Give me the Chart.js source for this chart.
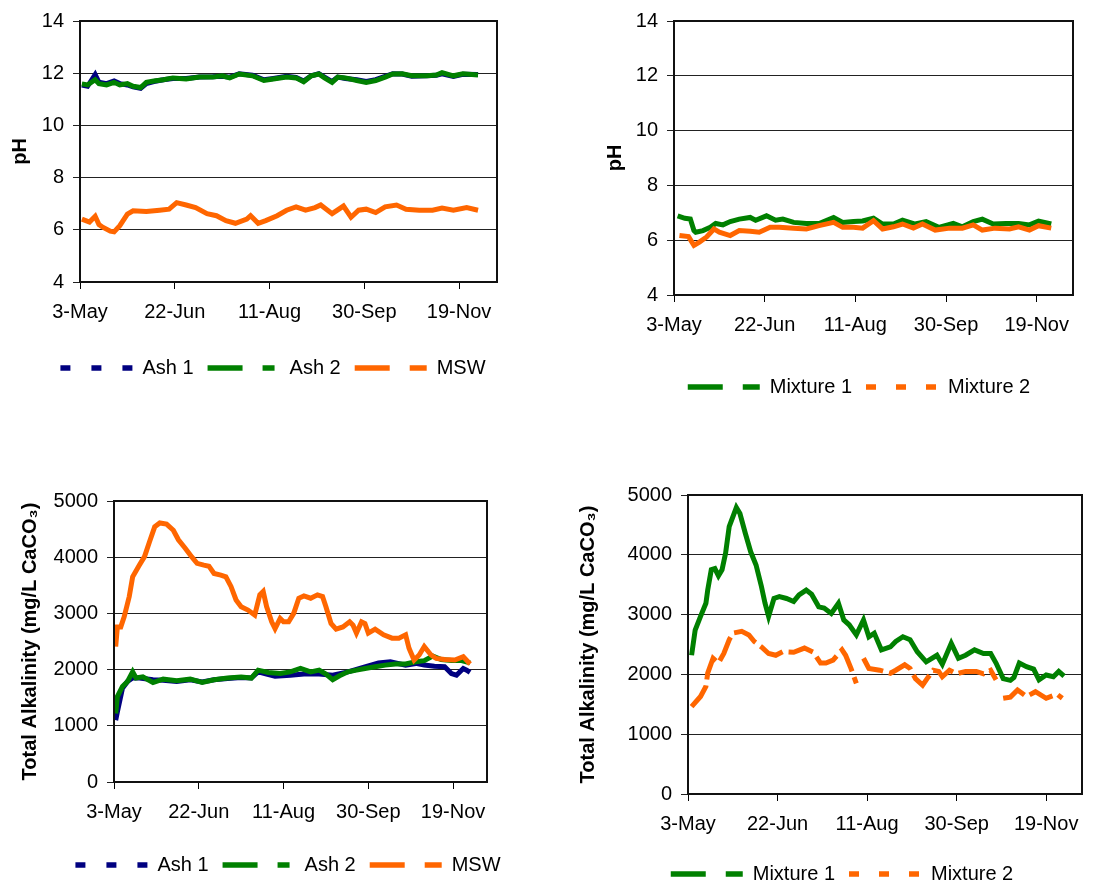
<!DOCTYPE html>
<html>
<head>
<meta charset="utf-8">
<script src="https://cdn.jsdelivr.net/npm/chart.js@4.4.1/dist/chart.umd.min.js"></script>
<style>
  html, body { margin: 0; padding: 0; background: #fff; }
  body { width: 1094px; height: 886px; position: relative; overflow: hidden; }
  canvas { position: absolute; }
</style>
</head>
<body>
<canvas id="phAsh" width="540" height="400" style="left:0;top:0"></canvas>
<canvas id="phMix" width="534" height="410" style="left:560px;top:0"></canvas>
<canvas id="alkAsh" width="540" height="416" style="left:0;top:470px"></canvas>
<canvas id="alkMix" width="534" height="416" style="left:560px;top:470px"></canvas>
<script>
// x axis is days counted from 3 May, ticks every 50 days
const xTickLabels = ['3-May', '22-Jun', '11-Aug', '30-Sep', '19-Nov'];

// pH, ash and MSW cells
const phDaysAsh = [1,4,8,10,14,18,21,25,28,32,35,39,44,49,56,63,70,75,79,84,91,97,102,109,114,118,122,126,129,133,136,140,146,151,156,161,165,170,175,183,188,191,197,202,210];
const ash1Ph = [11.55,11.50,11.95,11.65,11.60,11.70,11.60,11.55,11.48,11.42,11.60,11.68,11.75,11.80,11.80,11.85,11.86,11.88,11.85,11.98,11.92,11.75,11.80,11.88,11.84,11.70,11.90,11.98,11.85,11.68,11.85,11.80,11.75,11.68,11.75,11.88,11.98,11.97,11.88,11.90,11.92,11.98,11.88,11.96,11.95];
const ash2Ph = [11.59,11.55,11.75,11.60,11.55,11.65,11.55,11.60,11.50,11.45,11.65,11.70,11.75,11.82,11.78,11.85,11.85,11.90,11.82,11.97,11.90,11.72,11.78,11.85,11.82,11.67,11.90,11.97,11.82,11.65,11.85,11.82,11.72,11.65,11.72,11.85,11.97,11.98,11.90,11.90,11.93,12.02,11.90,11.98,11.93];
const mswPhDays = [1,5,8,10,12,16,18,21,25,28,35,42,47,51,56,61,67,72,77,82,88,90,94,98,104,109,114,119,124,127,133,139,143,147,151,156,161,167,172,179,186,191,197,204,210];
const mswPh = [6.41,6.30,6.52,6.20,6.10,5.95,5.92,6.16,6.60,6.73,6.70,6.75,6.79,7.04,6.95,6.85,6.62,6.54,6.35,6.25,6.41,6.54,6.25,6.35,6.54,6.75,6.88,6.75,6.85,6.95,6.62,6.91,6.48,6.75,6.79,6.66,6.88,6.95,6.79,6.75,6.75,6.83,6.75,6.85,6.75];

// pH, mixtures
const mix1PhDays = [2,6,9,11,12,16,20,23,27,31,36,42,45,51,56,60,66,73,80,88,93,99,104,110,115,121,126,133,139,146,154,159,165,170,176,183,190,196,201,208];
const mix1Ph = [6.89,6.80,6.77,6.35,6.29,6.35,6.47,6.61,6.56,6.68,6.77,6.83,6.73,6.89,6.73,6.77,6.65,6.61,6.61,6.83,6.65,6.68,6.70,6.80,6.59,6.59,6.73,6.59,6.68,6.47,6.61,6.49,6.68,6.77,6.59,6.61,6.61,6.56,6.70,6.59];
const mix2PhDays = [3,8,11,14,18,22,25,31,36,42,47,53,58,66,73,80,88,93,99,104,110,115,121,126,132,137,144,152,159,165,170,177,185,190,196,201,208];
const mix2Ph = [6.17,6.13,5.81,5.93,6.12,6.41,6.29,6.17,6.35,6.33,6.29,6.47,6.47,6.44,6.41,6.53,6.65,6.47,6.47,6.44,6.71,6.41,6.49,6.59,6.44,6.59,6.37,6.44,6.44,6.56,6.37,6.44,6.41,6.49,6.37,6.53,6.44];

// total alkalinity (mg/L CaCO3), ash and MSW cells
const ash1AlkDays = [1,2,5,8,11,15,23,29,37,45,52,59,67,75,81,85,90,95,104,112,121,129,138,148,156,163,172,178,183,189,195,199,202,206,208,210];
const ash1Alk = [1100,1250,1670,1790,1850,1850,1820,1810,1790,1820,1780,1820,1840,1860,1850,1960,1920,1880,1900,1920,1920,1900,1960,2050,2120,2140,2080,2110,2080,2060,2050,1930,1900,2020,1990,1950];
const ash2AlkDays = [1,2,5,8,11,13,17,23,29,37,45,52,59,67,75,81,85,91,98,104,110,116,121,125,129,133,138,143,148,154,160,166,172,178,183,188,193,199,205,210];
const ash2Alk = [1220,1520,1700,1790,1960,1850,1870,1770,1830,1800,1830,1770,1820,1850,1870,1850,1990,1950,1930,1960,2020,1960,1990,1920,1820,1890,1960,1990,2020,2050,2080,2100,2100,2140,2160,2240,2180,2160,2160,2120];
const mswAlkDays = [1,2,4,6,9,11,15,18,21,24,27,31,35,38,42,46,49,53,56,59,63,66,69,72,75,79,83,86,88,90,93,95,98,100,103,106,109,112,116,120,123,125,128,131,135,139,141,143,146,148,150,154,159,164,168,172,174,177,180,183,187,190,195,201,206,210];
const mswAlk = [2410,2760,2760,2940,3300,3650,3860,4010,4280,4540,4610,4590,4480,4310,4160,4000,3890,3860,3840,3710,3680,3650,3480,3240,3120,3060,2970,3330,3390,3120,2850,2730,2910,2850,2850,3000,3270,3310,3270,3330,3300,3120,2820,2720,2760,2850,2790,2650,2850,2820,2650,2720,2620,2560,2560,2620,2380,2170,2260,2410,2260,2200,2180,2170,2230,2100];

// total alkalinity, mixtures (null = no reading)
const mix1AlkDays = [2,4,7,10,11,13,15,17,19,21,23,27,29,32,35,38,41,43,45,48,51,55,59,62,66,69,73,76,80,84,87,90,94,98,101,104,108,113,116,120,124,128,133,139,142,147,151,155,160,165,169,172,176,180,182,185,189,193,196,200,204,207,210];
const mix1Alk = [2320,2740,2970,3190,3410,3750,3770,3650,3750,4030,4470,4790,4690,4360,4050,3830,3470,3190,2970,3270,3300,3270,3220,3330,3410,3340,3130,3110,3020,3190,2910,2830,2660,2910,2630,2690,2410,2460,2550,2630,2580,2380,2210,2320,2170,2520,2270,2320,2410,2350,2350,2190,1930,1900,1950,2190,2130,2090,1910,1990,1960,2050,1970];
const mix2AlkDays = [2,7,10,11,14,17,20,23,25,30,34,37,41,45,49,53,59,65,70,74,77,81,86,88,91,94,96,98,101,107,113,116,121,124,127,131,134,137,140,142,146,150,155,161,165,169,172,174,176,180,184,189,194,200,206,209];
const mix2Alk = [1460,1630,1800,2020,2270,2190,2350,2580,2690,2720,2660,2550,2460,2350,2320,2380,2370,2440,2370,2190,2190,2240,2410,2320,2100,1850,null,2270,2100,2070,2020,2070,2160,2100,1930,1820,1950,2070,2050,1960,2070,2010,2050,2050,2010,2070,1910,null,1600,1620,1740,1630,1710,1600,1670,1600];

const NAVY = '#000080', GREEN = '#008000', ORANGE = '#FF6600';

Chart.defaults.font.family = "'Liberation Sans', Arial, sans-serif";
Chart.defaults.font.size = 20;
Chart.defaults.color = '#000';

function pts(days, vals) {
  return days.map((d, i) => ({ x: d, y: vals[i] }));
}

function series(label, days, vals, color, legendDash, idx, dash) {
  return {
    label: label,
    data: pts(days, vals),
    borderColor: color,
    backgroundColor: color,
    borderWidth: 5,
    borderDash: dash || [],
    pointRadius: 0,
    tension: 0,
    spanGaps: false,
    order: -idx,
    legendDash: legendDash
  };
}

// plot area border on all four sides
const frame = {
  id: 'frame',
  afterDraw(chart) {
    const a = chart.chartArea, ctx = chart.ctx;
    ctx.save();
    ctx.strokeStyle = '#111';
    ctx.lineWidth = 2;
    ctx.strokeRect(a.left, a.top, a.right - a.left, a.bottom - a.top);
    ctx.restore();
  }
};

// put the legend row where it sits in the figure
const place = {
  id: 'place',
  afterLayout(chart, args, opts) {
    const lg = chart.legend;
    const dx = opts.cx - (lg.left + lg.right) / 2;
    const dy = opts.cy - (lg.top + lg.options.labels.padding + 10);
    lg.left += dx; lg.right += dx;
    lg.top += dy; lg.bottom += dy;
  }
};

function makeChart(id, cfg) {
  new Chart(document.getElementById(id), {
    type: 'line',
    data: { datasets: cfg.datasets },
    plugins: [frame, place],
    options: {
      responsive: false,
      animation: false,
      events: [],
      layout: { padding: cfg.pad },
      plugins: {
        tooltip: { enabled: false },
        place: { cx: cfg.legendX, cy: cfg.legendY },
        legend: {
          position: 'bottom',
          labels: {
            usePointStyle: true,
            pointStyleWidth: 72,
            padding: 14,
            color: '#000',
            font: { size: 20 },
            generateLabels: chart => chart.data.datasets.map((ds, i) => ({
              text: ds.label,
              datasetIndex: i,
              hidden: false,
              fillStyle: ds.borderColor,
              strokeStyle: ds.borderColor,
              lineWidth: 5.5,
              lineDash: ds.legendDash,
              lineDashOffset: 0,
              pointStyle: 'line',
              rotation: 180,
              fontColor: '#000'
            }))
          }
        }
      },
      scales: {
        x: {
          type: 'linear',
          min: 0,
          max: 220,
          afterFit: s => { s.height = 44; },
          border: { display: false },
          grid: { drawOnChartArea: false, drawTicks: true, tickLength: 7, color: '#000' },
          ticks: {
            stepSize: 50,
            includeBounds: false,
            autoSkip: false,
            maxRotation: 0,
            padding: 11,
            color: '#000',
            callback: v => xTickLabels[v / 50]
          }
        },
        y: {
          min: cfg.yMin,
          max: cfg.yMax,
          afterFit: s => { s.width = cfg.yWidth; },
          border: { display: false },
          grid: { color: '#222', lineWidth: 1, tickLength: 7 },
          ticks: { stepSize: cfg.yStep, padding: 9, color: '#000', callback: v => String(v) },
          title: {
            display: true,
            text: cfg.yTitle,
            color: '#000',
            font: { size: 20, weight: 'bold' },
            padding: { top: cfg.titlePad, bottom: 0 }
          }
        }
      }
    }
  });
}

const dashAsh1 = [10, 21], dashAsh2 = [35, 20, 12, 20], dashLong = [35, 20], dashShort = [10, 20];
const alkTitle = 'Total Alkalinity (mg/L CaCO\u2083)';

makeChart('phAsh', {
  datasets: [
    series('Ash 1', phDaysAsh, ash1Ph, NAVY, dashAsh1, 0),
    series('Ash 2', phDaysAsh, ash2Ph, GREEN, dashAsh2, 1),
    series('MSW', mswPhDays, mswPh, ORANGE, dashLong, 2)
  ],
  pad: { left: 0, top: 18, right: 43, bottom: 30 },
  yMin: 4, yMax: 14, yStep: 2, yWidth: 80, yTitle: 'pH', titlePad: 8,
  legendX: 273, legendY: 368
});

makeChart('phMix', {
  datasets: [
    series('Mixture 1', mix1PhDays, mix1Ph, GREEN, dashLong, 0),
    series('Mixture 2', mix2PhDays, mix2Ph, ORANGE, dashShort, 1)
  ],
  pad: { left: 0, top: 18, right: 21, bottom: 27 },
  yMin: 4, yMax: 14, yStep: 2, yWidth: 114, yTitle: 'pH', titlePad: 43,
  legendX: 299, legendY: 387
});

makeChart('alkAsh', {
  datasets: [
    series('Ash 1', ash1AlkDays, ash1Alk, NAVY, dashAsh1, 0),
    series('Ash 2', ash2AlkDays, ash2Alk, GREEN, dashAsh2, 1),
    series('MSW', mswAlkDays, mswAlk, ORANGE, dashLong, 2)
  ],
  pad: { left: 0, top: 31, right: 53, bottom: 16 },
  yMin: 0, yMax: 5000, yStep: 1000, yWidth: 114, yTitle: alkTitle, titlePad: 18,
  legendX: 288, legendY: 395
});

makeChart('alkMix', {
  datasets: [
    series('Mixture 1', mix1AlkDays, mix1Alk, GREEN, dashLong, 0),
    series('Mixture 2', mix2AlkDays, mix2Alk, ORANGE, dashShort, 1, [26, 6])
  ],
  pad: { left: 0, top: 25, right: 12, bottom: 4 },
  yMin: 0, yMax: 5000, yStep: 1000, yWidth: 128, yTitle: alkTitle, titlePad: 16,
  legendX: 282, legendY: 404
});
</script>
</body>
</html>
